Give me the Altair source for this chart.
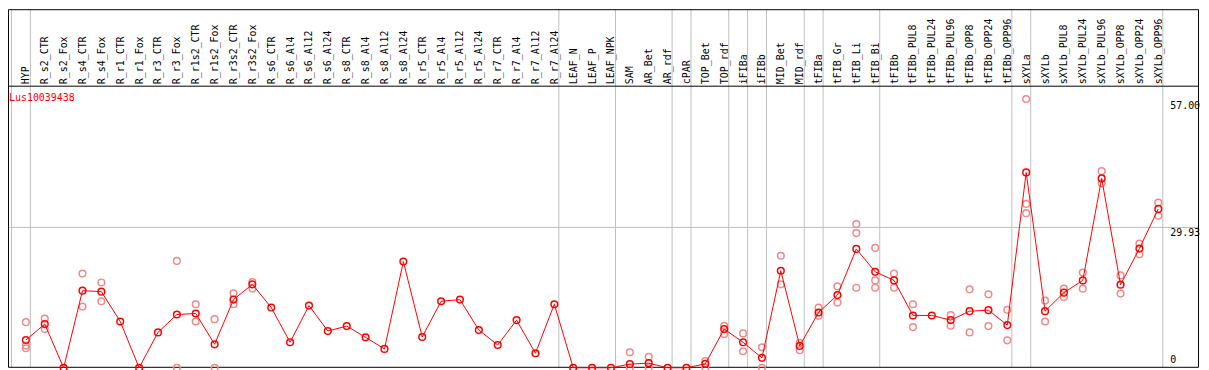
import json
import altair as alt
import pandas as pd

title_text = "Lus10039438"

categories = [
    "HYP", "R_s2_CTR", "R_s2_Fox", "R_s4_CTR", "R_s4_Fox", "R_r1_CTR", "R_r1_Fox",
    "R_r3_CTR", "R_r3_Fox", "R_r1s2_CTR", "R_r1s2_Fox", "R_r3s2_CTR", "R_r3s2_Fox",
    "R_s6_CTR", "R_s6_Al4", "R_s6_Al12", "R_s6_Al24", "R_s8_CTR", "R_s8_Al4",
    "R_s8_Al12", "R_s8_Al24", "R_r5_CTR", "R_r5_Al4", "R_r5_Al12", "R_r5_Al24",
    "R_r7_CTR", "R_r7_Al4", "R_r7_Al12", "R_r7_Al24", "LEAF_N", "LEAF_P", "LEAF_NPK",
    "SAM", "AR_Bet", "AR_rdf", "cPAR", "TOP_Bet", "TOP_rdf", "iFIBa", "iFIBb",
    "MID_Bet", "MID_rdf", "tFIBa", "tFIB_Gr", "tFIB_Li", "tFIB_Bi", "tFIBb",
    "tFIBb_PUL8", "tFIBb_PUL24", "tFIBb_PUL96", "tFIBb_OPP8", "tFIBb_OPP24",
    "tFIBb_OPP96", "sXYLa", "sXYLb", "sXYLb_PUL8", "sXYLb_PUL24", "sXYLb_PUL96",
    "sXYLb_OPP8", "sXYLb_OPP24", "sXYLb_OPP96",
]

means = [
    5.93, 9.32, 0.0, 16.45, 16.24, 9.88, 0.0,
    7.55, 11.36, 11.58, 5.01, 14.54, 17.8,
    12.85, 5.44, 13.27, 7.84, 8.9, 6.5,
    4.02, 22.66, 6.57, 14.19, 14.54, 8.05,
    4.87, 10.17, 3.11, 13.56, 0.0, 0.0, 0.0,
    0.78, 0.99, 0.0, 0.0, 0.85, 8.26, 5.44, 2.12,
    20.7, 4.66, 11.8, 15.5, 25.35, 20.47, 18.64,
    11.16, 11.16, 10.17, 12.07, 12.29,
    9.11, 41.66, 12.07, 16.03, 18.64, 40.39,
    17.73, 25.42, 33.89,
]

rep_categories = [
    "HYP", "HYP", "HYP", "R_s2_CTR", "R_s2_CTR", "R_s4_CTR", "R_s4_CTR",
    "R_s4_Fox", "R_s4_Fox", "R_r3_Fox", "R_r3_Fox", "R_r1s2_CTR", "R_r1s2_CTR",
    "R_r1s2_Fox", "R_r1s2_Fox", "R_r3s2_CTR", "R_r3s2_CTR", "R_r3s2_Fox", "R_r3s2_Fox",
    "SAM", "SAM", "AR_Bet", "AR_Bet", "TOP_Bet", "TOP_Bet", "TOP_rdf", "TOP_rdf",
    "iFIBa", "iFIBa", "iFIBb", "iFIBb", "MID_Bet", "MID_Bet", "MID_rdf", "MID_rdf",
    "tFIBa", "tFIBa", "tFIB_Gr", "tFIB_Gr", "tFIB_Li", "tFIB_Li", "tFIB_Li",
    "tFIB_Bi", "tFIB_Bi", "tFIB_Bi", "tFIBb", "tFIBb", "tFIBb_PUL8", "tFIBb_PUL8",
    "tFIBb_PUL96", "tFIBb_PUL96", "tFIBb_OPP8", "tFIBb_OPP8", "tFIBb_OPP24", "tFIBb_OPP24",
    "tFIBb_OPP96", "tFIBb_OPP96", "sXYLa", "sXYLa", "sXYLa", "sXYLb", "sXYLb",
    "sXYLb_PUL8", "sXYLb_PUL8", "sXYLb_PUL24", "sXYLb_PUL24", "sXYLb_PUL96", "sXYLb_PUL96",
    "sXYLb_OPP8", "sXYLb_OPP8", "sXYLb_OPP24", "sXYLb_OPP24", "sXYLb_OPP96", "sXYLb_OPP96",
]
rep_values = [
    9.74, 4.73, 4.17, 10.5, 8.26, 20.1, 13.06,
    18.2, 14.2, 22.8, 0.0, 13.56, 9.88,
    10.38, 0.0, 15.9, 13.56, 18.3, 16.9,
    3.32, 0.0, 2.33, 0.0, 1.41, 0.0, 8.97, 7.2,
    7.34, 3.53, 4.38, 0.0, 23.9, 17.8, 5.3, 3.74,
    12.85, 11.08, 17.37, 13.9, 30.64, 28.73, 17.08,
    25.56, 18.64, 17.08, 20.12, 17.08, 13.56, 8.68,
    11.23, 8.97, 16.73, 7.55, 15.67, 8.9,
    12.36, 5.86, 57.33, 34.95, 32.97, 14.33, 9.88,
    16.87, 15.1, 20.33, 16.87, 41.94, 39.33,
    19.7, 15.82, 26.48, 24.21, 35.23, 32.41,
]

# last category of each sample group (a separator follows each one)
group_ends = ["HYP", "R_r7_Al24", "LEAF_NPK", "AR_rdf", "cPAR", "TOP_rdf", "iFIBa",
              "iFIBb", "MID_rdf", "tFIBa", "tFIB_Bi", "tFIBb_OPP96", "sXYLa", "sXYLb_OPP96"]

tick_values = [0, 29.93, 57.00]
tick_labels = ["0", "29.93", "57.00"]
grid_values = [29.93]

# ---- build tables ----
index_of = {c: i for i, c in enumerate(categories)}
mean_df = pd.DataFrame({"x": list(range(len(categories))), "cat": categories, "y": means})
rep_df = pd.DataFrame({"x": [index_of[c] for c in rep_categories], "y": rep_values})
sep_df = pd.DataFrame({"x": [-1 + 0.24] + [index_of[c] + 0.24 for c in group_ends]})
top_ticks_df = pd.DataFrame({"y": tick_values[1:], "label": tick_labels[1:]})
zero_tick_df = pd.DataFrame({"y": tick_values[:1], "label": tick_labels[:1]})
grid_df = pd.DataFrame({"y": grid_values})
title_df = pd.DataFrame({"t": [title_text]})

W, H = 1198, 284
MONO = "DejaVu Sans Mono"
RED = "#ff0000"
PALE = "#f08a8a"
GRID = "#c0c0c0"

x_scale = alt.Scale(domain=[-18 / 19, (W - 18) / 19], nice=False, zero=False)
y_scale = alt.Scale(domain=[0, 60.16], nice=False, zero=False)

label_expr = json.dumps(categories) + "[datum.value]"
x_axis = alt.Axis(
    orient="top", values=list(range(len(categories))), labelExpr=label_expr,
    ticks=False, domain=False, grid=False, title=None,
    labelAngle=270, labelAlign="left", labelBaseline="middle", labelPadding=2,
    labelFont=MONO, labelFontSize=10, labelColor="black", labelOverlap=False,
    labelLimit=300,
)

X = alt.X("x:Q", scale=x_scale, axis=x_axis)
Y = alt.Y("y:Q", scale=y_scale, axis=None)

separators = alt.Chart(sep_df).mark_rule(color=GRID, strokeWidth=1).encode(
    x=X, y=alt.value(-77), y2=alt.value(H)
)
hgrid = alt.Chart(grid_df).mark_rule(color=GRID, strokeWidth=1).encode(
    y=Y, x=alt.value(0), x2=alt.value(W)
)
frame = alt.Chart(title_df).mark_rect(fill=None, stroke="black", strokeWidth=1).encode(
    x=alt.value(0.5), x2=alt.value(W + 0.5), y=alt.value(-76.5), y2=alt.value(H - 0.5)
)
header_line = alt.Chart(title_df).mark_rule(color="black", strokeWidth=1).encode(
    y=alt.value(0.5), x=alt.value(0), x2=alt.value(W)
)
reps = alt.Chart(rep_df).mark_point(
    shape="circle", filled=False, size=45, strokeWidth=1.5, color=PALE, opacity=1
).encode(x=X, y=Y)
line = alt.Chart(mean_df).mark_line(color=RED, strokeWidth=1).encode(x=X, y=Y)
pts = alt.Chart(mean_df).mark_point(
    shape="circle", filled=False, size=45, strokeWidth=1.5, color=RED, opacity=1
).encode(x=X, y=Y)
ylabels = alt.Chart(top_ticks_df).mark_text(
    align="left", baseline="top", font=MONO, fontSize=10, color="black", dy=1
).encode(y=Y, x=alt.value(W - 28), text="label:N")
ylabel0 = alt.Chart(zero_tick_df).mark_text(
    align="left", baseline="bottom", font=MONO, fontSize=10, color="black", dy=-3
).encode(y=Y, x=alt.value(W - 28), text="label:N")
title = alt.Chart(title_df).mark_text(
    align="left", baseline="middle", font=MONO, fontSize=10, color=RED
).encode(x=alt.value(1), y=alt.value(12), text="t:N")

chart = alt.layer(
    separators, hgrid, frame, header_line, reps, line, pts, ylabels, ylabel0, title
).properties(
    width=W, height=H,
    padding={"top": 77, "left": 0, "right": 3, "bottom": 1},
    autosize=alt.AutoSizeParams(type="none"),
    background="white",
).configure_view(stroke=None)

chart.save("out.html", embed_options={"renderer": "svg", "actions": False})
